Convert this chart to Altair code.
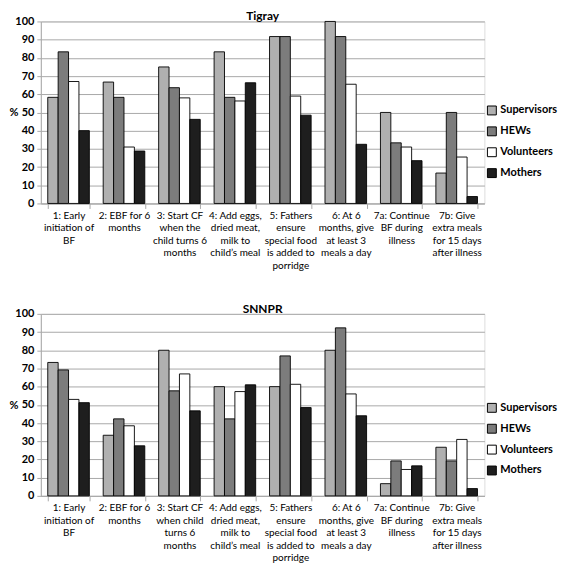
import altair as alt
import pandas as pd

series = ["Supervisors", "HEWs", "Volunteers", "Mothers"]
colors = ["#b0b0b0", "#7c7c7c", "#ffffff", "#1e1e1e"]

cats_tigray = [
    "1: Early|initiation of|BF",
    "2: EBF for 6|months",
    "3: Start CF|when the|child turns 6|months",
    "4: Add eggs,|dried meat,|milk to|child\u2019s meal",
    "5: Fathers|ensure|special food|is added to|porridge",
    "6: At 6|months, give|at least 3|meals a day",
    "7a: Continue|BF during|illness",
    "7b: Give|extra meals|for 15 days|after illness",
]
tigray_sup = [58.3, 66.7, 75.0, 83.3, 91.7, 100.0, 50.0, 16.7]
tigray_hew = [83.3, 58.3, 63.6, 58.3, 91.7, 91.7, 33.3, 50.0]
tigray_vol = [67.0, 31.0, 58.0, 56.3, 59.0, 65.5, 31.0, 25.5]
tigray_mot = [40.0, 28.8, 46.2, 66.3, 48.5, 32.5, 23.5, 3.8]

cats_snnpr = [
    "1: Early|initiation of|BF",
    "2: EBF for 6|months",
    "3: Start CF|when child|turns 6|months",
    "4: Add eggs,|dried meat,|milk to|child\u2019s meal",
    "5: Fathers|ensure|special food|is added to|porridge",
    "6: At 6|months, give|at least 3|meals a day",
    "7a: Continue|BF during|illness",
    "7b: Give|extra meals|for 15 days|after illness",
]
snnpr_sup = [73.3, 33.3, 80.0, 60.0, 60.0, 80.0, 6.7, 26.7]
snnpr_hew = [69.2, 42.3, 57.7, 42.3, 76.9, 92.3, 19.2, 19.2]
snnpr_vol = [53.0, 38.5, 67.0, 57.3, 61.3, 56.0, 14.5, 31.0]
snnpr_mot = [51.2, 27.5, 46.7, 61.0, 48.5, 44.0, 16.5, 4.0]

FONT = "Lato"
GRID = "#a8a8a8"


def make_df(cats, vals):
    rows = []
    for s, v in zip(series, vals):
        for c, x in zip(cats, v):
            rows.append({"cat": c, "series": s, "value": x})
    return pd.DataFrame(rows)


def panel(title, cats, vals, legend_y):
    df = make_df(cats, vals)
    return alt.Chart(df).mark_bar(stroke="black", strokeWidth=0.9).encode(
        x=alt.X("cat:N", sort=cats, title=None,
                scale=alt.Scale(paddingInner=0.25, paddingOuter=0.125),
                axis=alt.Axis(labelExpr="split(datum.label, '|')", labelAngle=0,
                              tickBand="extent", labelFontSize=10, labelLimit=0,
                              labelLineHeight=12.5, labelPadding=2, tickSize=5,
                              labelFont=FONT, labelColor="black",
                              domainColor=GRID, tickColor=GRID)),
        xOffset=alt.XOffset("series:N", sort=series,
                            scale=alt.Scale(domain=series, paddingInner=0, paddingOuter=0)),
        y=alt.Y("value:Q", scale=alt.Scale(domain=[0, 100], nice=False),
                axis=alt.Axis(values=list(range(0, 101, 10)), title="%",
                              titleAngle=0, titleAlign="right", titleBaseline="middle",
                              titleX=-23, titleY=92, titleFont=FONT, titleFontSize=11,
                              titleFontWeight="bold", labelFont=FONT, labelFontSize=11,
                              labelFontWeight="bold", labelColor="black", labelPadding=3,
                              tickSize=4, tickColor=GRID, domainColor=GRID,
                              gridColor=GRID, gridWidth=1)),
        color=alt.Color("series:N", sort=series,
                        scale=alt.Scale(domain=series, range=colors),
                        legend=alt.Legend(title=None, orient="none", legendX=448, legendY=legend_y,
                                          symbolType="square", symbolSize=80,
                                          symbolStrokeColor="black", symbolStrokeWidth=1,
                                          symbolOpacity=1,
                                          labelFont=FONT, labelFontSize=11,
                                          labelFontWeight="bold", labelColor="black",
                                          rowPadding=8, labelOffset=3)),
    ).properties(
        width=446, height=183,
        title=alt.Title(title, fontSize=12, fontWeight="bold", font=FONT,
                        color="black", offset=-8),
    )


top = panel("Tigray", cats_tigray, [tigray_sup, tigray_hew, tigray_vol, tigray_mot], 84)
bottom = panel("SNNPR", cats_snnpr, [snnpr_sup, snnpr_hew, snnpr_vol, snnpr_mot], 89)

chart = alt.vconcat(top, bottom, spacing=31).resolve_scale(
    color="independent", x="independent"
).properties(
    padding={"left": 0, "top": 0, "right": 0, "bottom": 0}
).configure_view(stroke=None).configure(background="white")

chart.save("out.html", embed_options={"renderer": "svg", "actions": False})
